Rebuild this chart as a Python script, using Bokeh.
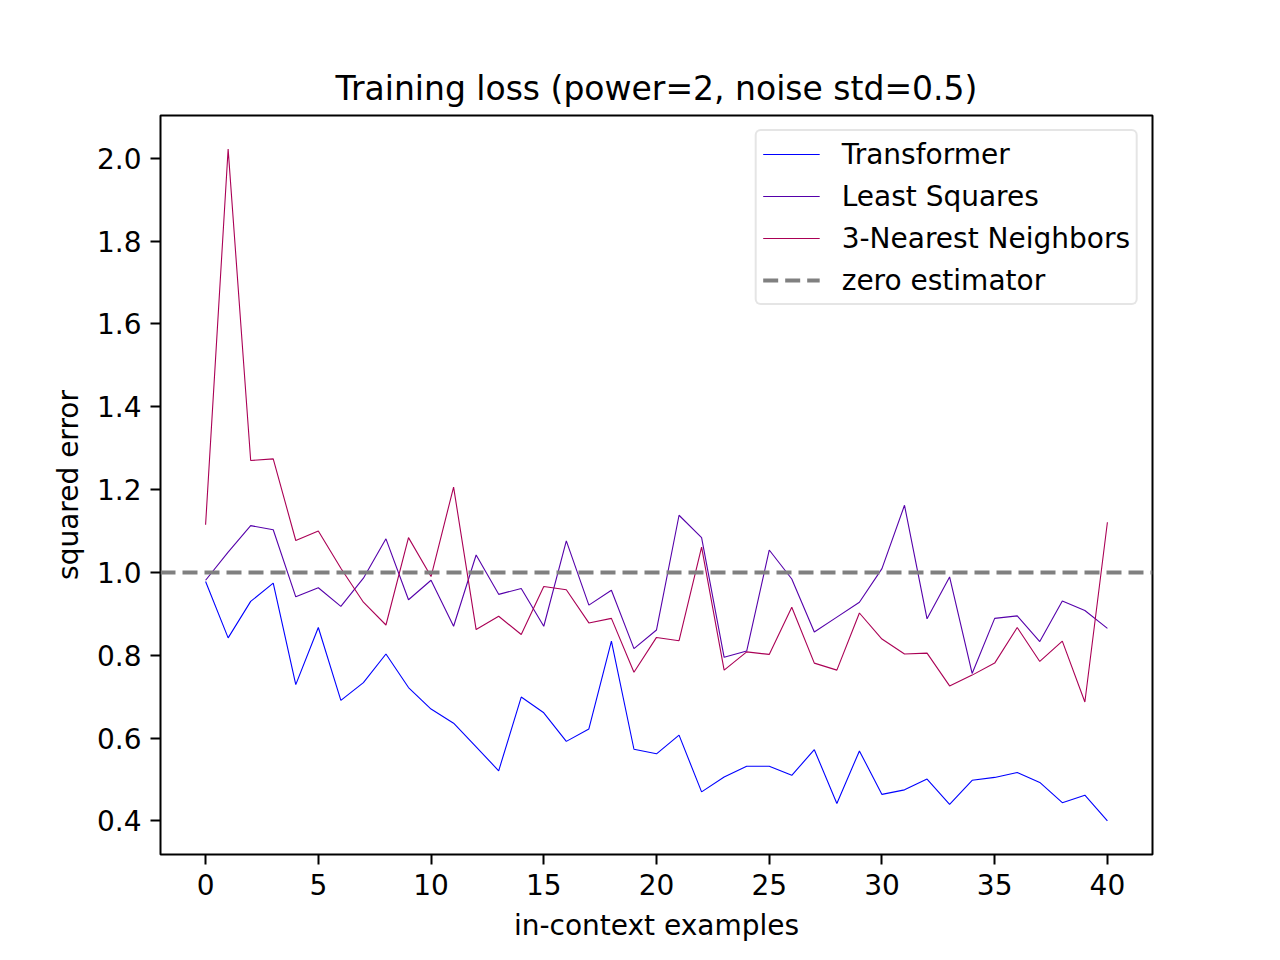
from bokeh.plotting import figure
from bokeh.models import Legend, LegendItem, PrintfTickFormatter, FixedTicker, Range1d
from bokeh.embed import file_html
from bokeh.resources import INLINE

examples = list(range(41))

transformer = [0.978, 0.842, 0.930, 0.974, 0.729, 0.867, 0.691, 0.734, 0.803, 0.722,
               0.670, 0.636, 0.579, 0.521, 0.699, 0.661, 0.592, 0.622, 0.834, 0.573,
               0.562, 0.607, 0.470, 0.506, 0.532, 0.532, 0.510, 0.572, 0.442, 0.569,
               0.464, 0.475, 0.501, 0.440, 0.498, 0.505, 0.517, 0.493, 0.444, 0.462,
               0.400]

least_squares = [0.981, 1.049, 1.113, 1.103, 0.941, 0.963, 0.918, 0.986, 1.081, 0.934,
                 0.981, 0.870, 1.042, 0.947, 0.961, 0.870, 1.076, 0.921, 0.957, 0.816,
                 0.861, 1.138, 1.084, 0.795, 0.810, 1.054, 0.984, 0.856, 0.892, 0.928,
                 1.009, 1.162, 0.888, 0.989, 0.756, 0.889, 0.895, 0.833, 0.931, 0.908,
                 0.865]

knn3 = [1.115, 2.022, 1.270, 1.274, 1.077, 1.100, 1.010, 0.928, 0.873, 1.084,
        0.990, 1.206, 0.862, 0.894, 0.850, 0.966, 0.958, 0.878, 0.889, 0.759,
        0.843, 0.835, 1.061, 0.764, 0.808, 0.802, 0.916, 0.781, 0.764, 0.902,
        0.839, 0.803, 0.805, 0.726, 0.752, 0.781, 0.867, 0.785, 0.834, 0.687,
        1.121]

zero_level = 1.0

series_names = ["Transformer", "Least Squares", "3-Nearest Neighbors"]
series_colors = ["#0000ff", "#5500aa", "#aa0055"]
x_ticks = [0, 5, 10, 15, 20, 25, 30, 35, 40]
y_ticks = [0.4, 0.6, 0.8, 1.0, 1.2, 1.4, 1.6, 1.8, 2.0]

FONT = "DejaVu Sans"

allv = transformer + least_squares + knn3
ymin, ymax = min(allv), max(allv)
ypad = 0.05 * (ymax - ymin)
xpad = 0.05 * (max(examples) - min(examples))
x_lo, x_hi = min(examples) - xpad, max(examples) + xpad

p = figure(frame_width=992, frame_height=739,
           x_range=Range1d(x_lo, x_hi),
           y_range=Range1d(ymin - ypad, ymax + ypad),
           output_backend="svg", toolbar_location=None,
           min_border_left=160, min_border_right=112,
           min_border_top=115, min_border_bottom=100)

p.title.text = "Training loss (power=2, noise std=0.5)"
p.title.text_font = FONT
p.title.text_font_size = "33px"
p.title.text_font_style = "normal"
p.title.text_color = "black"
p.title.align = "center"
p.title.standoff = 15

p.grid.visible = False
p.outline_line_color = "black"
p.outline_line_width = 2
p.outline_line_alpha = 1.0

for ax in (p.xaxis[0], p.yaxis[0]):
    ax.axis_line_color = None
    ax.major_tick_line_color = "black"
    ax.major_tick_line_width = 2
    ax.major_tick_out = 10
    ax.major_tick_in = 0
    ax.minor_tick_line_color = None
    ax.major_label_text_font = FONT
    ax.major_label_text_font_size = "28px"
    ax.major_label_text_color = "black"
    ax.axis_label_text_font = FONT
    ax.axis_label_text_font_size = "28px"
    ax.axis_label_text_font_style = "normal"
    ax.axis_label_text_color = "black"
    ax.major_label_standoff = 9

p.xaxis.ticker = FixedTicker(ticks=x_ticks)
p.yaxis.ticker = FixedTicker(ticks=y_ticks)
p.xaxis.formatter = PrintfTickFormatter(format="%d")
p.yaxis.formatter = PrintfTickFormatter(format="%.1f")
p.xaxis.axis_label = "in-context examples"
p.yaxis.axis_label = "squared error"
p.xaxis.axis_label_standoff = 11
p.yaxis.axis_label_standoff = 9

items = []
for name, vals, col in zip(series_names, [transformer, least_squares, knn3], series_colors):
    r = p.line(examples, vals, line_color=col, line_width=1.1)
    items.append(LegendItem(label=name, renderers=[r]))

zr = p.line(x=[x_lo, x_hi], y=[zero_level, zero_level], line_color="#808080",
            line_width=4, line_dash="15 7")
items.append(LegendItem(label="zero estimator", renderers=[zr]))

legend = Legend(items=items, location="top_right")
legend.label_text_font = FONT
legend.label_text_font_size = "28px"
legend.label_text_color = "black"
legend.glyph_width = 57
legend.glyph_height = 34
legend.label_height = 34
legend.label_standoff = 22
legend.spacing = 8
legend.padding = 6
legend.margin = 14
legend.border_line_color = "#cccccc"
legend.border_line_width = 2
legend.border_radius = 6
legend.background_fill_alpha = 0.8
p.add_layout(legend)

open("out.html", "w").write(file_html(p, INLINE))
